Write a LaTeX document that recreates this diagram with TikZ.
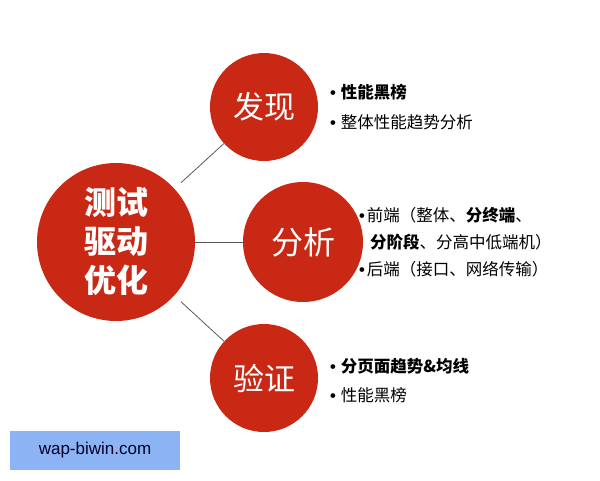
\documentclass[tikz,border=0pt]{standalone}
\usepackage{fontspec}
\setmainfont{Noto Sans CJK SC}
\newfontfamily\wmfont{Liberation Sans}
\usepackage{tikz}
\usetikzlibrary{positioning}
\definecolor{topicred}{RGB}{200,40,20}
\definecolor{wmblue}{RGB}{140,180,245}
\newcommand{\blt}{{\wmfont\bfseries •}}

\begin{document}
\begin{tikzpicture}[x=1pt, y=-1pt,
  hub/.style={circle, fill=topicred, text=white, inner sep=0pt, minimum size=#1},
  item/.style={anchor=west, inner sep=0pt, font=\fontsize{16.5}{18}\selectfont},
  link/.style={draw=black!65, line width=0.8pt}]
\useasboundingbox (0,0) rectangle (600,480);
\node[hub=158pt, align=center, font=\fontsize{32}{39}\selectfont\bfseries] (core) at (116,242) {测试\\驱动\\优化};
\node[hub=108pt, font=\fontsize{31}{31}\selectfont] (find) at (264,107) {发现};
\node[hub=120pt, font=\fontsize{32}{32}\selectfont] (anal) at (303,242) {分析};
\node[hub=108pt, font=\fontsize{31}{31}\selectfont] (veri) at (264,378) {验证};
\draw[link, shorten <=9pt] (core) -- (find);
\draw[link] (core) -- (anal);
\draw[link, shorten <=9pt] (core) -- (veri);
% bullets of each topic
\node[item] (f1) at (330,92) {\blt\hspace{5pt}\textbf{性能黑榜}};
\node[item] (f2) at (330,122) {\blt\hspace{5pt}整体性能趋势分析};
\node[item] (a1) at (359,215) {\blt\hspace{2pt}前端（整体、\textbf{分终端}、};
\node[item] (a2) at (370,242) {\textbf{分阶段}、分高中低端机）};
\node[item] (a3) at (359,269) {\blt\hspace{2pt}后端（接口、网络传输）};
\node[item] (v1) at (330,366) {\blt\hspace{5pt}\textbf{分页面趋势\&均线}};
\node[item] (v2) at (330,395) {\blt\hspace{5pt}性能黑榜};
% watermark
\node[fill=wmblue, minimum width=170pt, minimum height=39pt, inner sep=0pt,
  text=black!85!blue, font=\wmfont\fontsize{17}{17}\selectfont] (mark) at (95,450.5) {wap-biwin.com};
\end{tikzpicture}
\end{document}
